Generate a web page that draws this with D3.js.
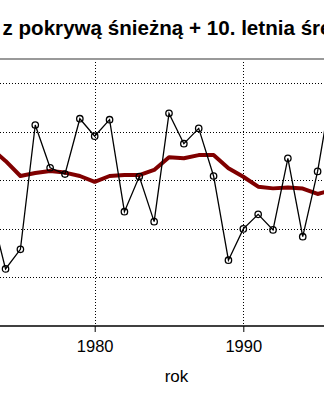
<!DOCTYPE html>
<html><head><meta charset="utf-8">
<script src="https://cdn.jsdelivr.net/npm/d3@7"></script>
<style>body{margin:0;background:#fff}svg{display:block}</style>
</head><body>
<svg id="c" width="324" height="400"></svg>
<script>
const titleText = "Liczba dni z pokrywą śnieżną + 10. letnia średnia";
const xLabel = "rok";
const years = d3.range(1973, 1997);
const days = [48, 23.5, 31.6, 82.8, 65.2, 62.6, 85.4, 78.2, 85.0, 47.1, 61.6, 43.0,
              87.6, 75.1, 81.4, 61.8, 27.1, 40.0, 46.0, 39.6, 69.1, 36.8, 63.7, 99.3];
const avg10 = [73.3, 68.0, 61.8, 63.0, 63.9, 63.2, 61.8, 59.4, 61.8, 62.2, 62.2, 64.3,
               69.5, 69.1, 70.4, 70.4, 65.0, 61.5, 57.4, 56.7, 57.1, 56.6, 54.4, 56.0];
const xTicks = [1980, 1990];
const yTicks = [0, 20, 40, 60, 80, 100];

(function () {
const svg = d3.select("#c");
const W = 324, pTop = 59, pBottom = 326;
const x = d3.scaleLinear().domain([1970, 2000]).range([-53.9, 391.9]);
const y = d3.scaleLinear().domain([0, 110]).range([pBottom, pTop]);

svg.append("defs").append("clipPath").attr("id", "clip")
  .append("rect").attr("x", 0).attr("y", pTop).attr("width", W).attr("height", pBottom - pTop);

const g = svg.append("g");
g.selectAll(".hg").data(yTicks.filter(d => d > 0)).join("line")
  .attr("x1", 0).attr("x2", W).attr("y1", d => Math.round(y(d)) + 0.5).attr("y2", d => Math.round(y(d)) + 0.5)
  .attr("stroke", "#000").attr("stroke-width", 1).attr("stroke-dasharray", "1,2");
g.selectAll(".vg").data(xTicks).join("line")
  .attr("x1", d => Math.round(x(d)) + 0.5).attr("x2", d => Math.round(x(d)) + 0.5)
  .attr("y1", pTop).attr("y2", pBottom)
  .attr("stroke", "#000").attr("stroke-width", 1).attr("stroke-dasharray", "1,2");

svg.append("line").attr("x1", 0).attr("x2", W).attr("y1", pTop).attr("y2", pTop)
  .attr("stroke", "#999").attr("stroke-width", 2);

const plot = svg.append("g").attr("clip-path", "url(#clip)");
const line = d3.line().x((d, i) => x(years[i])).y(d => y(d));
plot.append("path").datum(avg10).attr("d", line)
  .attr("fill", "none").attr("stroke", "#800000").attr("stroke-width", 4)
  .attr("stroke-linejoin", "round");
plot.append("path").datum(days).attr("d", line)
  .attr("fill", "none").attr("stroke", "#000").attr("stroke-width", 1.3);
plot.selectAll("circle").data(days).join("circle")
  .attr("cx", (d, i) => x(years[i])).attr("cy", d => y(d)).attr("r", 3.2)
  .attr("fill", "none").attr("stroke", "#000").attr("stroke-width", 1.3);

const ax = svg.append("g").attr("transform", `translate(0,${pBottom})`)
  .call(d3.axisBottom(x).tickValues(xTicks).tickFormat(d3.format("d")).tickSize(6).tickPadding(8).tickSizeOuter(0));
ax.select(".domain").remove();
ax.selectAll("text").attr("font-family", "Liberation Sans, Arial, sans-serif").attr("font-size", 16.5).attr("fill", "#000");
svg.append("line").attr("x1", 0).attr("x2", W).attr("y1", pBottom).attr("y2", pBottom)
  .attr("stroke", "#000").attr("stroke-width", 1.5);

svg.append("text").attr("x", 176.5).attr("y", 381.5).attr("text-anchor", "middle")
  .attr("font-family", "Liberation Sans, Arial, sans-serif").attr("font-size", 17).text(xLabel);

const t = svg.append("text").attr("y", 35)
  .attr("font-family", "Liberation Sans, Arial, sans-serif").attr("font-size", 20.6)
  .attr("font-weight", "bold").text(titleText);
const tmp = svg.append("text").attr("font-family", "Liberation Sans, Arial, sans-serif")
  .attr("font-size", 20.6).attr("font-weight", "bold").style("white-space", "pre").text("Liczba dni ");
const pre = tmp.node().getComputedTextLength();
tmp.remove();
t.attr("x", 2.5 - pre);
})();
</script>
</body></html>
